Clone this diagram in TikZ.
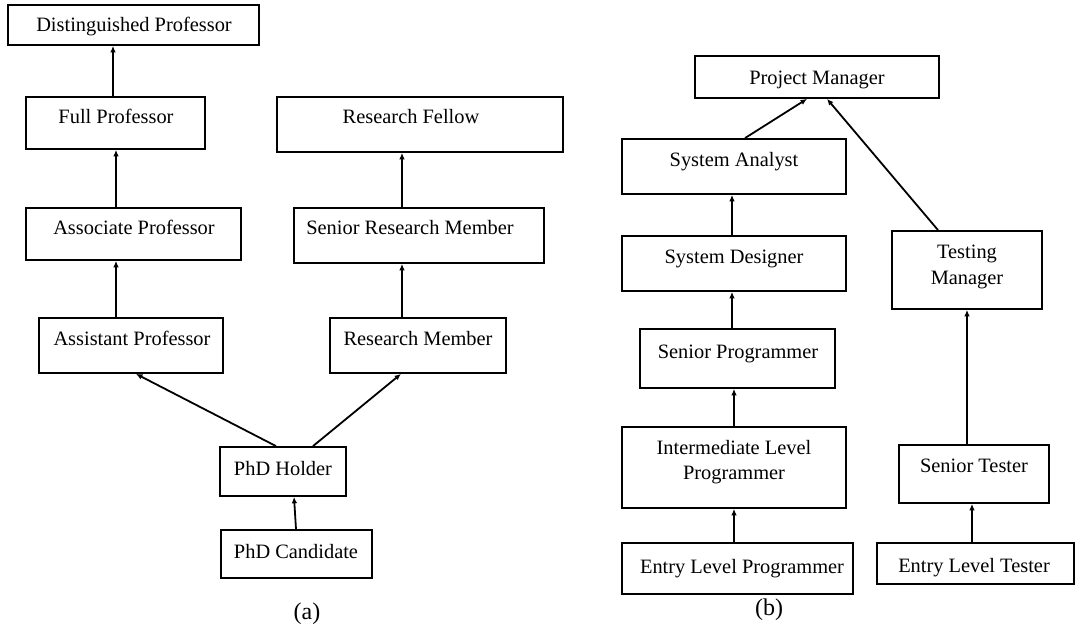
\documentclass[tikz,border=0pt]{standalone}
\usepackage{fontspec}
\setmainfont{Liberation Serif}
\usetikzlibrary{arrows.meta,fit}

\tikzset{
  box/.style={draw, line width=0.9pt, rectangle, inner sep=0pt},
  lbl/.style={anchor=base, inner sep=0pt, font=\fontsize{10.2}{12}\selectfont},
  sublbl/.style={anchor=base, inner sep=0pt, font=\fontsize{12}{14}\selectfont},
  arr/.style={line width=0.9pt, -{Latex[length=3.2pt,width=2.8pt]}},
}

\begin{document}
\begin{tikzpicture}[x=0.5pt, y=-0.5pt]
\useasboundingbox (0,0) rectangle (1076,630);

% ---------- (a) academic track ----------
\node[box, fit={(8,5) (259,45)}]     (dp)   {};
\node[box, fit={(26,97) (205,149)}]  (fp)   {};
\node[box, fit={(26,208) (241,260)}] (ap)   {};
\node[box, fit={(39,318) (223,373)}] (asp)  {};
\node[box, fit={(277,97) (563,152)}] (rf)   {};
\node[box, fit={(294,208) (544,263)}] (srm) {};
\node[box, fit={(330,318) (506,373)}] (rm)  {};
\node[box, fit={(220,447) (346,496)}] (phd) {};
\node[box, fit={(221,530) (372,578)}] (cand) {};

\node[lbl] (dpt)   at (134,32)  {Distinguished Professor};
\node[lbl] (fpt)   at (116,124) {Full Professor};
\node[lbl] (apt)   at (134,235) {Associate Professor};
\node[lbl] (aspt)  at (132,346) {Assistant Professor};
\node[lbl] (rft)   at (411,124) {Research Fellow};
\node[lbl] (srmt)  at (410,235) {Senior Research Member};
\node[lbl] (rmt)   at (418,346) {Research Member};
\node[lbl] (phdt)  at (283,475) {PhD Holder};
\node[lbl] (candt) at (296,558) {PhD Candidate};
\node[sublbl] (capa) at (307,619) {(a)};

\draw[arr] (113,0 |- fp.north)   -- (113,0 |- dp.south);
\draw[arr] (116,0 |- ap.north)   -- (116,0 |- fp.south);
\draw[arr] (116,0 |- asp.north)  -- (116,0 |- ap.south);
\draw[arr] (402,0 |- srm.north)  -- (402,0 |- rf.south);
\draw[arr] (402,0 |- rm.north)   -- (402,0 |- srm.south);
\draw[arr] (276,0 |- phd.north)  -- (136,0 |- asp.south);
\draw[arr] (313,0 |- phd.north)  -- (401,0 |- rm.south);
\draw[arr] (296,0 |- cand.north) -- (294,0 |- phd.south);

% ---------- (b) software track ----------
\node[box, fit={(695,56) (939,98)}]    (pm)  {};
\node[box, fit={(622,139) (846,194)}]  (sa)  {};
\node[box, fit={(622,236) (846,291)}]  (sd)  {};
\node[box, fit={(640,329) (835,388)}]  (sp)  {};
\node[box, fit={(622,427) (846,508)}]  (ilp) {};
\node[box, fit={(622,543) (853,594)}]  (elp) {};
\node[box, fit={(892,231) (1042,309)}] (tm)  {};
\node[box, fit={(899,445) (1049,503)}] (st)  {};
\node[box, fit={(877,543) (1074,584)}] (elt) {};

\node[lbl] (pmt)   at (817,85)  {Project Manager};
\node[lbl] (sat)   at (734,167) {System Analyst};
\node[lbl] (sdt)   at (734,264) {System Designer};
\node[lbl] (spt)   at (738,359) {Senior Programmer};
\node[lbl] (ilpa)  at (734,455) {Intermediate Level};
\node[lbl] (ilpb)  at (734,480) {Programmer};
\node[lbl] (elpt)  at (742,573) {Entry Level Programmer};
\node[lbl] (tma)   at (967,259) {Testing};
\node[lbl] (tmb)   at (967,285) {Manager};
\node[lbl] (stt)   at (974,473) {Senior Tester};
\node[lbl] (eltt)  at (974,572) {Entry Level Tester};
\node[sublbl] (capb) at (769,615) {(b)};

\draw[arr] (745,0 |- sa.north)  -- (807,0 |- pm.south);
\draw[arr] (938,0 |- tm.north)  -- (827,0 |- pm.south);
\draw[arr] (732,0 |- sd.north)  -- (732,0 |- sa.south);
\draw[arr] (732,0 |- sp.north)  -- (732,0 |- sd.south);
\draw[arr] (734,0 |- ilp.north) -- (734,0 |- sp.south);
\draw[arr] (734,0 |- elp.north) -- (734,0 |- ilp.south);
\draw[arr] (967,0 |- st.north)  -- (967,0 |- tm.south);
\draw[arr] (972,0 |- elt.north) -- (972,0 |- st.south);
\end{tikzpicture}
\end{document}
